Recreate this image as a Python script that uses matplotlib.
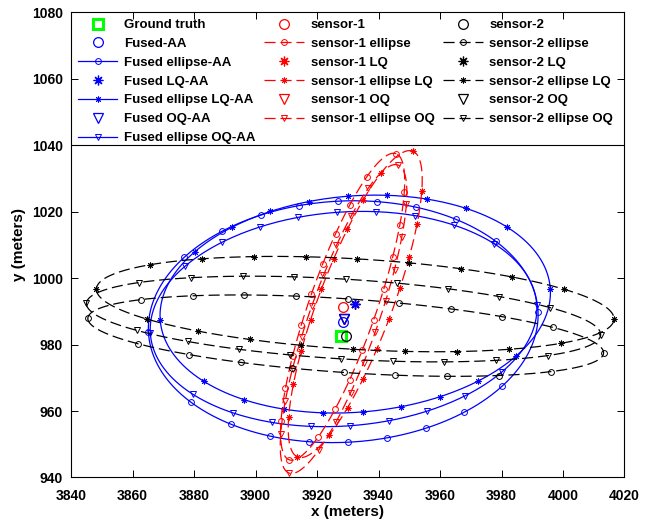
import numpy as np
import matplotlib
matplotlib.use('Agg')
import matplotlib.pyplot as plt
from matplotlib.lines import Line2D

plt.rcParams['font.family'] = 'Liberation Sans'
plt.rcParams['font.weight'] = 'bold'
plt.rcParams['lines.scale_dashes'] = False

# ground truth position (meters)
truth_x = 3927.7
truth_y = 982.7

# estimates: fused AA / LQ / OQ, sensor-1 (plain, LQ, OQ), sensor-2 (plain, LQ, OQ)
est_names = ['Fused-AA', 'Fused LQ-AA', 'Fused OQ-AA',
             'sensor-1', 'sensor-1 LQ', 'sensor-1 OQ',
             'sensor-2', 'sensor-2 LQ', 'sensor-2 OQ']
ell_names = ['Fused ellipse-AA', 'Fused ellipse LQ-AA', 'Fused ellipse OQ-AA',
             'sensor-1 ellipse', 'sensor-1 ellipse LQ', 'sensor-1 ellipse OQ',
             'sensor-2 ellipse', 'sensor-2 ellipse LQ', 'sensor-2 ellipse OQ']
est_x = [3928.5, 3932.4, 3928.6, 3928.3, 3932.4, 3928.6, 3929.3, 3932.4, 3928.6]
est_y = [986.9, 992.2, 987.7, 991.4, 992.2, 987.7, 982.7, 992.2, 987.7]

# error ellipses: half extent along x / y and correlation
ell_sx = [63.4, 63.5, 62.9, 20.2, 21.8, 20.6, 83.9, 84.2, 83.65]
ell_sy = [36.4, 32.8, 32.4, 46.2, 46.2, 46.5, 12.25, 14.35, 12.9]
ell_rho = [0.055, 0.105, 0.097, 0.82, 0.81, 0.82, -0.42, -0.31, -0.36]

colors = ['b', 'b', 'b', 'r', 'r', 'r', 'k', 'k', 'k']
star = (8, 2, 0)
markers = ['o', star, 'v'] * 3
styles = ['-', '-', '-', '--', '--', '--', '--', '--', '--']
DASH = (8, 3.5)


def ellipse_points(cx, cy, sx, sy, rho, n_line=361, n_mark=11):
    cov = np.array([[sx ** 2, rho * sx * sy], [rho * sx * sy, sy ** 2]])
    vals, vecs = np.linalg.eigh(cov)
    a, b = np.sqrt(vals[1]), np.sqrt(vals[0])
    major, minor = vecs[:, 1], vecs[:, 0]
    t = np.linspace(0, 2 * np.pi, n_line)
    line = np.outer(a * np.cos(t), major) + np.outer(b * np.sin(t), minor) + [cx, cy]
    # markers spaced evenly along the major axis on both halves
    u = np.linspace(-1, 1, n_mark)
    w = np.sqrt(1 - u ** 2)
    mu = np.concatenate([u, u[-2:0:-1]])
    mw = np.concatenate([w, -w[-2:0:-1]])
    marks = np.outer(a * mu, major) + np.outer(b * mw, minor) + [cx, cy]
    return line, marks


fig = plt.figure(figsize=(6.52, 5.23), dpi=100)
ax = fig.add_axes([0.1092, 0.087, 0.8486, 0.8893])

ell_handles = []
for i in range(9):
    line, marks = ellipse_points(est_x[i], est_y[i], ell_sx[i], ell_sy[i], ell_rho[i])
    kw = dict(color=colors[i], lw=0.9)
    if styles[i] == '--':
        kw['dashes'] = DASH
    ax.plot(line[:, 0], line[:, 1], zorder=2, **kw)
    ax.plot(marks[:, 0], marks[:, 1], ls='none', marker=markers[i], ms=4.2,
            mfc='none', mec=colors[i], mew=0.7, zorder=2)
    ell_handles.append(Line2D([], [], marker=markers[i], ms=4.2, mfc='none',
                              mec=colors[i], mew=0.7, **kw))

# point estimates; sensor LQ/OQ coincide with the fused ones and sit below
gt = ax.plot(truth_x, truth_y, ls='none', marker='s', ms=6.5, mfc='w',
             mec=(0, 1, 0), mew=2.2, zorder=3)[0]
est_handles = [None] * 9
for i in [4, 5, 7, 8, 0, 1, 2, 3, 6]:
    est_handles[i] = ax.plot(est_x[i], est_y[i], ls='none', marker=markers[i], ms=7,
                             mfc='none', mec=colors[i], mew=0.9, zorder=3)[0]

ax.axhline(1040, color='k', lw=0.8)

handles = [gt]
labels = ['Ground truth']
for i in range(9):
    handles += [est_handles[i], ell_handles[i]]
    labels += [est_names[i], ell_names[i]]
# legend columns: fused group (7 with ground truth), sensor-1 (6), sensor-2 (6)
ax.legend(handles, labels, ncol=3, loc='upper left', bbox_to_anchor=(0.012, 0.986),
          frameon=False, fontsize=9.5, numpoints=1, handlelength=3.0,
          handletextpad=0.5, columnspacing=0.67, labelspacing=0.5,
          borderpad=0, borderaxespad=0)

ax.set_xlim(3840, 4020)
ax.set_ylim(940, 1080)
ax.set_xticks(np.arange(3840, 4021, 20))
ax.set_yticks(np.arange(940, 1081, 20))
ax.tick_params(direction='in', top=True, right=True, length=5, width=0.7, labelsize=10)
ax.tick_params(axis='x', pad=8)
ax.tick_params(axis='y', pad=6)
for s in ax.spines.values():
    s.set_linewidth(0.8)
ax.set_xlabel('x (meters)', fontsize=11, fontweight='bold', labelpad=2)
ax.set_ylabel('y (meters)', fontsize=11, fontweight='bold', labelpad=4)

fig.savefig('out.png', dpi=100)
